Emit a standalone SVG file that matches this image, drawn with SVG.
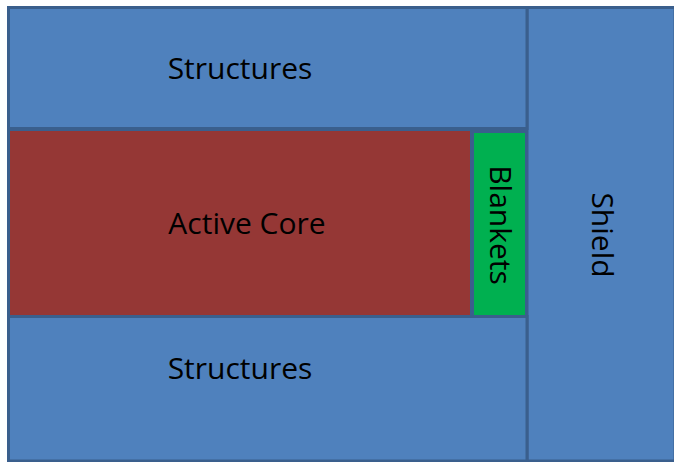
<svg xmlns="http://www.w3.org/2000/svg" width="674" height="462" viewBox="0 0 674 462">
<style>
rect{stroke:#3a5f8d;stroke-width:3}
.b{fill:#4f81bd}
.r{fill:#953735}
.g{fill:#00b050}
text{font-family:"Open Sans","Liberation Sans",sans-serif;font-size:30px;fill:#000;text-anchor:middle}
</style>
<rect x="0" y="0" width="674" height="462" fill="#fff" style="stroke:none"/>
<g id="shield">
<rect class="b" x="527" y="7.5" width="148" height="453.5"/>
<text transform="translate(592,235) rotate(90)">Shield</text>
</g>
<g id="structures-top">
<rect class="b" x="8.5" y="7.5" width="518.5" height="121"/>
<text x="240" y="79">Structures</text>
</g>
<g id="structures-bottom">
<rect class="b" x="8.5" y="316.5" width="518.5" height="144.5"/>
<text x="240" y="379">Structures</text>
</g>
<g id="active-core">
<rect class="r" x="8.5" y="129.5" width="463" height="187"/>
<text x="247" y="234">Active Core</text>
</g>
<g id="blankets">
<rect class="g" x="472.5" y="131.5" width="54" height="185"/>
<text transform="translate(490,225) rotate(90)">Blankets</text>
</g>
<g id="connectors"></g>
</svg>
